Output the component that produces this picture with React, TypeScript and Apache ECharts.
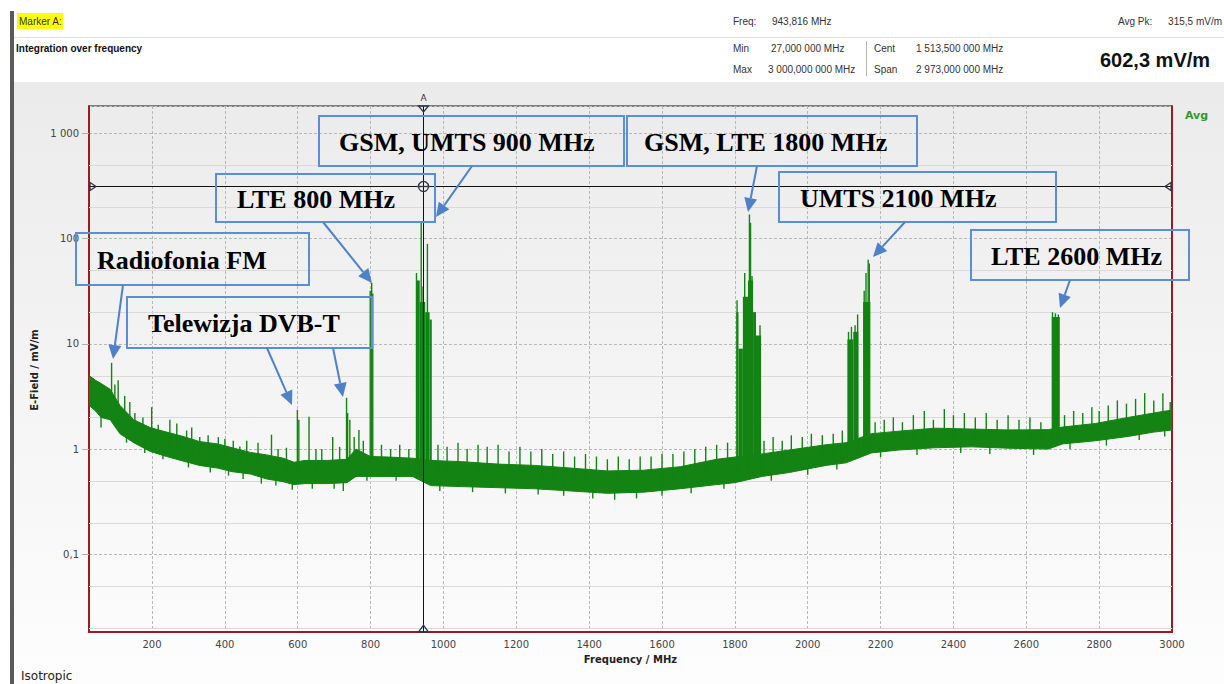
import React, { useEffect, useRef } from "react";
import * as echarts from "echarts";

// Axis ranges of the measurement (MHz, mV/m)
const FREQ_MIN = 27;
const FREQ_MAX = 3000;
const LEVEL_MIN = 0.0183;
const LEVEL_MAX = 1816;

const freqTicks = [200, 400, 600, 800, 1000, 1200, 1400, 1600, 1800, 2000, 2200, 2400, 2600, 2800, 3000];
const minorLevels = [0.02, 0.05, 0.2, 0.5, 2, 5, 20, 50, 200, 500];

// Marker A
const markerFreq = 943.816;
const markerLevel = 315.5;

// Noise floor of the sweep: [MHz, lower edge, upper edge] in mV/m
const noiseFloor: number[][] = [
  [27, 2.6, 5.0], [45, 2.3, 4.5], [60, 2.0, 4.2], [85, 1.9, 3.7], [112, 1.4, 2.6],
  [150, 1.15, 1.9], [195, 0.95, 1.6], [240, 0.85, 1.45], [285, 0.77, 1.32], [330, 0.7, 1.18],
  [380, 0.66, 1.12], [420, 0.61, 1.03], [470, 0.58, 0.93], [515, 0.52, 0.88], [560, 0.49, 0.82],
  [590, 0.46, 0.75], [620, 0.47, 0.78], [680, 0.47, 0.78], [735, 0.48, 0.8], [760, 0.55, 1.0],
  [800, 0.55, 0.85], [850, 0.55, 0.84], [915, 0.55, 0.82], [965, 0.45, 0.78], [1050, 0.44, 0.76],
  [1150, 0.43, 0.72], [1250, 0.42, 0.7], [1350, 0.4, 0.66], [1450, 0.38, 0.62], [1550, 0.39, 0.63],
  [1650, 0.42, 0.68], [1750, 0.46, 0.8], [1800, 0.48, 0.84], [1875, 0.55, 0.9], [1950, 0.6, 0.98],
  [2050, 0.7, 1.1], [2105, 0.74, 1.15], [2175, 0.92, 1.4], [2250, 0.98, 1.48], [2350, 1.03, 1.58],
  [2450, 1.05, 1.55], [2550, 1.02, 1.52], [2660, 1.0, 1.53], [2700, 1.12, 1.62], [2790, 1.2, 1.75],
  [2880, 1.32, 2.0], [2950, 1.45, 2.2], [3000, 1.52, 2.35],
];

// Occupied downlink bands: [from MHz, to MHz, bottom, top] in mV/m
const channelBlocks: number[][] = [
  [925, 935, 0.55, 40], [935, 950, 0.55, 25], [950, 962, 0.55, 20], [962, 968, 0.55, 17],
  [1804, 1810, 0.6, 20], [1810, 1822, 0.6, 9], [1822, 1836, 0.6, 28], [1836, 1850, 0.6, 40],
  [1850, 1858, 0.6, 20], [1858, 1872, 0.6, 12],
  [2109, 2125, 0.9, 11], [2125, 2139, 0.9, 13], [2152, 2172, 1.0, 25],
  [2670, 2692, 1.1, 18],
];

// Narrow carriers and peaks: [MHz, bottom, peak] in mV/m
const carriers: number[][] = [
  [89, 3, 6.6], [98, 2.5, 4.1], [107, 2.2, 4.5], [125, 2, 3.2], [139, 1.6, 2.8], [153, 1.4, 2.2],
  [175, 1.3, 2.0], [199, 1.2, 2.5], [217, 1.1, 1.7], [249, 1.0, 1.9], [268, 0.95, 1.75],
  [295, 0.9, 1.5], [309, 0.9, 1.6], [331, 0.85, 1.3], [354, 0.85, 1.35], [382, 0.8, 1.3],
  [400, 0.8, 1.25], [423, 0.75, 1.2], [441, 0.75, 1.06], [460, 0.72, 1.2], [491, 0.7, 1.15],
  [528, 0.65, 1.37], [546, 0.62, 1.0], [569, 0.6, 1.03],
  [599, 0.55, 2.36], [603, 0.55, 1.9], [631, 0.55, 2.03], [650, 0.55, 1.0], [666, 0.55, 1.0],
  [696, 0.55, 1.3], [715, 0.55, 1.05], [734, 0.55, 3.07], [737, 0.55, 2.2], [743, 0.6, 1.9],
  [755, 0.6, 1.3], [768, 0.6, 1.52], [780, 0.6, 1.2],
  [799, 0.6, 32], [803, 0.6, 38], [806, 0.6, 30],
  [830, 0.6, 1.1], [855, 0.6, 1.0], [880, 0.6, 1.1], [905, 0.6, 1.0],
  [926, 0.6, 47], [939, 0.6, 141], [944, 0.6, 35], [956, 0.6, 89],
  [985, 0.6, 1.1], [1010, 0.6, 1.05], [1040, 0.55, 1.15], [1065, 0.55, 1.0], [1095, 0.55, 1.1],
  [1120, 0.55, 1.05], [1150, 0.55, 1.1], [1180, 0.5, 0.95], [1210, 0.5, 1.05], [1240, 0.5, 0.95],
  [1270, 0.5, 1.0], [1300, 0.5, 0.9], [1330, 0.48, 0.95], [1360, 0.47, 0.85], [1390, 0.46, 0.9],
  [1420, 0.45, 0.85], [1450, 0.45, 0.8], [1480, 0.45, 0.85], [1510, 0.45, 0.8], [1540, 0.46, 0.85],
  [1570, 0.47, 0.85], [1600, 0.48, 0.9], [1630, 0.5, 0.9], [1660, 0.5, 0.95], [1690, 0.55, 1.0],
  [1720, 0.58, 1.05], [1750, 0.6, 1.1], [1780, 0.62, 1.15],
  [1806, 0.6, 26], [1827, 0.6, 47], [1840, 0.6, 169], [1843, 0.6, 141], [1847, 0.6, 44], [1869, 0.6, 15],
  [1880, 0.7, 1.2], [1905, 0.7, 1.3], [1930, 0.7, 1.2], [1955, 0.75, 1.35], [1985, 0.75, 1.3],
  [2010, 0.8, 1.4], [2040, 0.8, 1.35], [2070, 0.85, 1.4], [2095, 0.9, 1.5],
  [2112, 0.9, 13], [2120, 0.9, 14.5], [2130, 0.9, 15], [2137, 0.9, 19],
  [2155, 1, 32], [2160, 1, 47], [2166, 1, 63], [2169, 1, 58],
  [2185, 1.1, 1.8], [2210, 1.1, 1.9], [2235, 1.15, 2.0], [2260, 1.15, 1.8], [2290, 1.2, 2.1],
  [2320, 1.2, 2.3], [2345, 1.2, 1.9], [2375, 1.25, 2.4], [2400, 1.25, 2.1], [2430, 1.25, 2.2],
  [2460, 1.25, 2.0], [2490, 1.25, 2.2], [2520, 1.2, 1.9], [2550, 1.2, 2.1], [2580, 1.2, 1.9],
  [2610, 1.2, 2.0], [2640, 1.2, 1.8],
  [2672, 1.1, 20], [2680, 1.1, 19.5], [2688, 1.1, 19],
  [2705, 1.3, 2.1], [2730, 1.35, 2.3], [2755, 1.35, 2.2], [2780, 1.4, 2.5], [2800, 1.45, 2.3],
  [2825, 1.5, 2.6], [2850, 1.55, 2.9], [2875, 1.6, 2.7], [2900, 1.7, 3.0], [2925, 1.75, 3.4],
  [2950, 1.8, 2.9], [2975, 1.8, 3.4], [2995, 1.85, 2.8],
];

// Downward dips below the floor: [MHz, dip bottom, top] in mV/m
const troughs: number[][] = [
  [60, 1.6, 2.6], [130, 1.15, 1.6], [180, 0.92, 1.2], [230, 0.8, 1.0], [300, 0.67, 0.9],
  [360, 0.6, 0.8], [410, 0.56, 0.75], [450, 0.52, 0.7], [500, 0.47, 0.65], [540, 0.45, 0.6],
  [585, 0.41, 0.55], [640, 0.42, 0.55], [700, 0.42, 0.55], [725, 0.4, 0.55], [790, 0.5, 0.65],
  [870, 0.5, 0.65], [990, 0.4, 0.55], [1080, 0.39, 0.5], [1170, 0.38, 0.5], [1260, 0.37, 0.5],
  [1330, 0.36, 0.48], [1410, 0.34, 0.45], [1470, 0.33, 0.45], [1530, 0.34, 0.45], [1600, 0.36, 0.48],
  [1680, 0.38, 0.5], [1770, 0.42, 0.55], [1900, 0.5, 0.65], [2000, 0.57, 0.75], [2080, 0.64, 0.8],
  [2200, 0.84, 1.05], [2300, 0.88, 1.1], [2420, 0.92, 1.15], [2500, 0.9, 1.15], [2620, 0.88, 1.1],
  [2720, 1.0, 1.25], [2820, 1.08, 1.4], [2910, 1.22, 1.55], [2980, 1.32, 1.7],
];

// Service labels
const calloutTexts = [
  "Radiofonia FM",
  "Telewizja DVB-T",
  "LTE 800 MHz",
  "GSM, UMTS 900 MHz",
  "GSM, LTE 1800 MHz",
  "UMTS 2100 MHz",
  "LTE 2600 MHz",
];

// Callout frames in page pixels: [x, y, w, h, text x]
const calloutFrames = [
  [76, 233, 233, 52, 97],
  [127, 297, 245, 51, 148],
  [216, 174, 219, 48, 237],
  [319, 116, 305, 50, 339],
  [627, 116, 290, 50, 644],
  [779, 172, 277, 50, 800],
  [971, 230, 218, 50, 991],
];

// Pointer arrows in page pixels: [from x, from y, tip x, tip y]
const pointerArrows = [
  [123, 285, 113, 359],
  [267, 348, 292, 405],
  [333, 348, 343, 397],
  [323, 222, 372, 283],
  [472, 166, 436, 217],
  [757, 166, 748, 212],
  [905, 222, 873, 257],
  [1070, 280, 1060, 308],
];

const TRACE = "#138313";
const AXIS_RED = "#9c1a24";
const FRAME_BLUE = "#5b8ed6";
const ARROW_BLUE = "#4f81c8";
const MARKER_INK = "#2d3646";

const formatLevel = (v: number) => {
  if (v < 1) return String(+v.toPrecision(3)).replace(".", ",");
  return String(Math.round(v)).replace(/\B(?=(\d{3})+(?!\d))/g, " ");
};

function arrowElements(a: number[]) {
  const [x1, y1, x2, y2] = a;
  const ang = Math.atan2(y2 - y1, x2 - x1);
  const len = 14;
  const hw = 6.5;
  const bx = x2 - len * Math.cos(ang);
  const by = y2 - len * Math.sin(ang);
  const px = -Math.sin(ang);
  const py = Math.cos(ang);
  return [
    {
      type: "line",
      z: 100,
      silent: true,
      shape: { x1, y1, x2: bx, y2: by },
      style: { stroke: ARROW_BLUE, lineWidth: 2 },
    },
    {
      type: "polygon",
      z: 100,
      silent: true,
      shape: {
        points: [
          [x2, y2],
          [bx + px * hw, by + py * hw],
          [bx - px * hw, by - py * hw],
        ],
      },
      style: { fill: ARROW_BLUE },
    },
  ];
}

const headerFont = "'Liberation Sans', Arial, sans-serif";

function headerText(text: string, x: number, y: number, extra: any = {}) {
  return {
    type: "text",
    x,
    y,
    silent: true,
    style: {
      text,
      fill: "#333",
      font: `10px ${headerFont}`,
      textVerticalAlign: "middle",
      ...extra,
    },
  };
}

export default function App() {
  const ref = useRef<HTMLDivElement>(null);

  useEffect(() => {
    if (!ref.current) return;
    const chart = echarts.init(ref.current, undefined, { renderer: "svg" });

    const graphics: any[] = [
      { type: "rect", silent: true, z: -5, shape: { x: 0, y: 0, width: 10, height: 684 }, style: { fill: "#fff" } },
      { type: "rect", silent: true, z: 5, shape: { x: 10, y: 11, width: 4, height: 673 }, style: { fill: "#5a5a5a" } },
      { type: "line", silent: true, shape: { x1: 14, y1: 37.5, x2: 1224, y2: 37.5 }, style: { stroke: "#e2e2e2", lineWidth: 1 } },
      { type: "rect", silent: true, shape: { x: 17, y: 13, width: 46, height: 16 }, style: { fill: "#ffff00" } },
      headerText("Marker A:", 19, 21),
      headerText("Integration over frequency", 16, 48, { font: `bold 10px ${headerFont}`, fill: "#111" }),
      headerText("Freq:", 733, 21),
      headerText("943,816 MHz", 772, 21),
      headerText("Avg Pk:", 1118, 21),
      headerText("315,5 mV/m", 1222, 21, { textAlign: "right" }),
      headerText("Min", 733, 48),
      headerText("27,000 000 MHz", 771, 48),
      headerText("Max", 733, 69),
      headerText("3 000,000 000 MHz", 768, 69),
      { type: "line", silent: true, shape: { x1: 866.5, y1: 41, x2: 866.5, y2: 76 }, style: { stroke: "#b5b5b5", lineWidth: 1 } },
      headerText("Cent", 874, 48),
      headerText("1 513,500 000 MHz", 916, 48),
      headerText("Span", 874, 69),
      headerText("2 973,000 000 MHz", 916, 69),
      headerText("602,3 mV/m", 1100, 60, { font: `bold 20px ${headerFont}`, fill: "#111" }),
      {
        type: "text",
        x: 34,
        y: 370,
        rotation: Math.PI / 2,
        silent: true,
        style: {
          text: "E-Field / mV/m",
          font: "bold 10px 'DejaVu Sans', sans-serif",
          fill: "#222",
          textAlign: "center",
          textVerticalAlign: "middle",
        },
      },
      {
        type: "text",
        x: 1185,
        y: 115,
        silent: true,
        style: { text: "Avg", font: "bold 11px 'DejaVu Sans', sans-serif", fill: "#2f9a2f", textVerticalAlign: "middle" },
      },
      {
        type: "text",
        x: 21,
        y: 676,
        silent: true,
        style: { text: "Isotropic", font: "12px 'DejaVu Sans', sans-serif", fill: "#222", textVerticalAlign: "middle" },
      },
    ];

    calloutTexts.forEach((t, i) => {
      const [x, y, w, h, tx] = calloutFrames[i];
      graphics.push({
        type: "rect",
        z: 100,
        silent: true,
        shape: { x, y, width: w, height: h },
        style: { fill: "none", stroke: FRAME_BLUE, lineWidth: 2 },
      });
      graphics.push({
        type: "text",
        z: 101,
        silent: true,
        x: tx,
        y: y + h / 2 + 1,
        style: {
          text: t,
          font: "bold 26px 'Liberation Serif', 'Times New Roman', serif",
          fill: "#000",
          textVerticalAlign: "middle",
        },
      });
    });
    pointerArrows.forEach((a) => graphics.push(...arrowElements(a)));

    const verticalStroke = (_params: any, api: any) => {
      const a = api.coord([api.value(0), api.value(1)]);
      const b = api.coord([api.value(0), api.value(2)]);
      return {
        type: "line",
        shape: { x1: a[0], y1: a[1], x2: b[0], y2: b[1] },
        style: { stroke: TRACE, lineWidth: 1.4 },
      };
    };

    const option: any = {
      animation: false,
      backgroundColor: "transparent",
      grid: {
        left: 89,
        right: 52,
        top: 106,
        bottom: 52,
        show: true,
        borderColor: "#111",
        borderWidth: 1,
        backgroundColor: "transparent",
      },
      xAxis: {
        type: "value",
        min: FREQ_MIN,
        max: FREQ_MAX,
        name: "Frequency / MHz",
        nameLocation: "middle",
        nameGap: 22,
        nameTextStyle: { fontFamily: "DejaVu Sans", fontWeight: "bold", fontSize: 10, color: "#222" },
        axisLine: { show: true, onZero: false, lineStyle: { color: AXIS_RED, width: 2 } },
        axisTick: { show: false, customValues: freqTicks },
        axisLabel: {
          customValues: freqTicks,
          margin: 7,
          fontFamily: "DejaVu Sans",
          fontSize: 10,
          color: "#444",
          formatter: (v: number) => String(Math.round(v)),
        },
        splitLine: { show: true, lineStyle: { color: "#b8b8b8", type: [3, 2], width: 1 } },
      },
      yAxis: [
        {
          type: "log",
          logBase: 10,
          min: LEVEL_MIN,
          max: LEVEL_MAX,
          axisLine: { show: true, lineStyle: { color: AXIS_RED, width: 2 } },
          axisTick: { show: true, length: 7, lineStyle: { color: "#b0b0b0" } },
          axisLabel: {
            margin: 10,
            fontFamily: "DejaVu Sans",
            fontSize: 10,
            color: "#444",
            showMinLabel: false,
            showMaxLabel: false,
            formatter: (v: number) => formatLevel(v),
          },
          splitLine: { show: true, lineStyle: { color: "#b8b8b8", type: [3, 2], width: 1 } },
        },
        {
          type: "value",
          position: "right",
          min: 0,
          max: 1,
          axisLine: { show: true, lineStyle: { color: AXIS_RED, width: 2 } },
          axisTick: { show: false },
          axisLabel: { show: false },
          splitLine: { show: false },
        },
      ],
      series: [
        {
          name: "minor grid",
          type: "custom",
          silent: true,
          data: minorLevels.map((v) => [FREQ_MIN, v]),
          renderItem: (params: any, api: any) => {
            const cs = params.coordSys;
            const p = api.coord([FREQ_MIN, api.value(1)]);
            const y = Math.round(p[1]) + 0.5;
            return {
              type: "line",
              shape: { x1: cs.x, y1: y, x2: cs.x + cs.width, y2: y },
              style: { stroke: "#dadada", lineWidth: 1 },
            };
          },
        },
        {
          name: "Avg floor",
          type: "custom",
          silent: true,
          clip: true,
          data: [[FREQ_MIN, 1]],
          renderItem: (_params: any, api: any) => {
            const upper = noiseFloor.map((r) => api.coord([r[0], r[2]]));
            const lower = noiseFloor.map((r) => api.coord([r[0], r[1]])).reverse();
            return {
              type: "polygon",
              shape: { points: upper.concat(lower) },
              style: { fill: TRACE, stroke: TRACE, lineWidth: 1 },
            };
          },
        },
        {
          name: "Avg bands",
          type: "custom",
          silent: true,
          clip: true,
          data: channelBlocks,
          encode: { x: [0, 1], y: [2, 3] },
          renderItem: (_params: any, api: any) => {
            const a = api.coord([api.value(0), api.value(3)]);
            const b = api.coord([api.value(1), api.value(2)]);
            return {
              type: "rect",
              shape: { x: a[0], y: a[1], width: b[0] - a[0], height: b[1] - a[1] },
              style: { fill: TRACE },
            };
          },
        },
        {
          name: "Avg carriers",
          type: "custom",
          silent: true,
          clip: true,
          data: carriers,
          encode: { x: 0, y: [1, 2] },
          renderItem: verticalStroke,
        },
        {
          name: "Avg dips",
          type: "custom",
          silent: true,
          clip: true,
          data: troughs,
          encode: { x: 0, y: [1, 2] },
          renderItem: verticalStroke,
        },
        {
          name: "Marker A",
          type: "custom",
          silent: true,
          data: [[markerFreq, markerLevel]],
          renderItem: (params: any, api: any) => {
            const cs = params.coordSys;
            const p = api.coord([api.value(0), api.value(1)]);
            const mx = Math.round(p[0]) + 0.5;
            const my = Math.round(p[1]) + 0.5;
            const top = cs.y;
            const bottom = cs.y + cs.height;
            const left = cs.x;
            const right = cs.x + cs.width;
            const ink = { stroke: MARKER_INK, lineWidth: 1.3, fill: "none" };
            return {
              type: "group",
              children: [
                { type: "line", shape: { x1: mx, y1: top, x2: mx, y2: bottom }, style: { stroke: "#111", lineWidth: 1 } },
                { type: "line", shape: { x1: left, y1: my, x2: right, y2: my }, style: { stroke: "#111", lineWidth: 1 } },
                { type: "circle", shape: { cx: mx, cy: my, r: 5 }, style: ink },
                { type: "line", shape: { x1: mx - 7, y1: my, x2: mx + 7, y2: my }, style: ink },
                {
                  type: "polygon",
                  shape: { points: [[mx - 5, top], [mx + 5, top], [mx, top + 6]] },
                  style: ink,
                },
                {
                  type: "polygon",
                  shape: { points: [[mx - 5, bottom], [mx + 5, bottom], [mx, bottom - 7]] },
                  style: ink,
                },
                {
                  type: "polygon",
                  shape: { points: [[left + 1, my - 4], [left + 1, my + 4], [left + 7, my]] },
                  style: ink,
                },
                {
                  type: "polygon",
                  shape: { points: [[right - 1, my - 4], [right - 1, my + 4], [right - 7, my]] },
                  style: ink,
                },
                {
                  type: "text",
                  x: mx,
                  y: top - 8,
                  style: {
                    text: "A",
                    font: "9px 'DejaVu Sans', sans-serif",
                    fill: "#333",
                    textAlign: "center",
                    textVerticalAlign: "middle",
                  },
                },
              ],
            };
          },
        },
      ],
      graphic: graphics,
    };

    chart.setOption(option);
    return () => chart.dispose();
  }, []);

  return (
    <div
      ref={ref}
      style={{
        position: "absolute",
        left: 0,
        top: 0,
        width: 1224,
        height: 684,
        background: "linear-gradient(to bottom, #ffffff 0px, #ffffff 82px, #ebebeb 82px, #fdfdfd 684px)",
      }}
    />
  );
}
